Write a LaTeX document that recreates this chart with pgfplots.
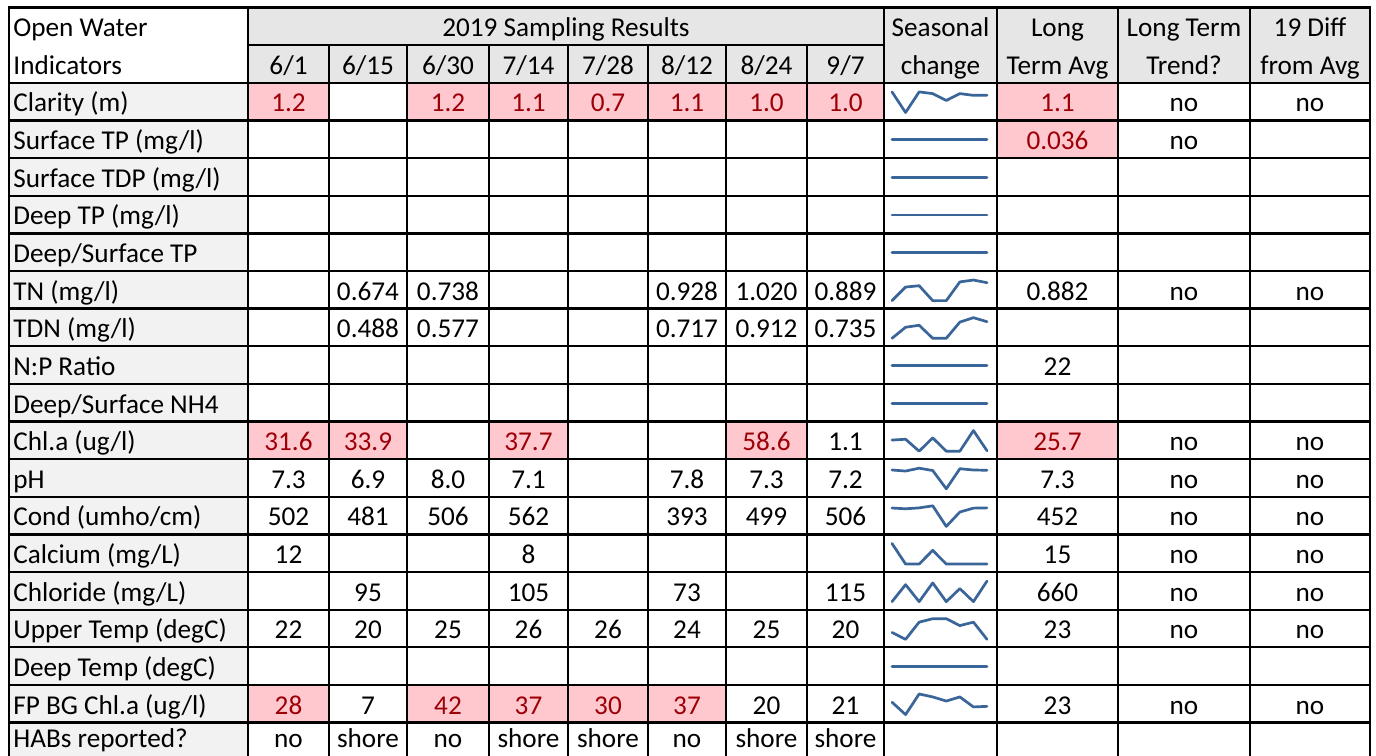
\documentclass[border=0pt]{standalone}
\usepackage{pgfplots}
\pgfplotsset{compat=1.18}
\usepackage{fontspec}
\setmainfont{Carlito}
\definecolor{hdr}{HTML}{E7E6E6}
\definecolor{ind}{HTML}{F2F2F2}
\definecolor{bad}{HTML}{FFC7CE}
\definecolor{badtxt}{HTML}{9C0006}
\definecolor{spark}{HTML}{3A6598}
\pgfplotsset{spark/.style={anchor=south west, scale only axis, width=47.5pt, height=10.3pt, hide axis, xmin=0, xmax=7, enlargelimits=false, clip=false},
  sp/.style={draw=spark, line width=1.35pt, line join=round, line cap=round, no marks}}
\def\cx{{129,288.5,368,448,528.5,608,687,766.5,845.5,940.5,1057.5,1184,1310}}
\def\ce{{9,248,329,407,489,568,648,726,807,884,997,1118,1250,1370}}
\tikzset{T/.style={font=\fontsize{13.6}{16}\selectfont, inner sep=0pt, anchor=base},
  L/.style={line width=1.15pt, black, line cap=rect}}
\newcommand\C[3]{\node[T] at ({\cx[#1]},{7.6+(#2+1)*37.63-8.5}) {#3};}
\newcommand\Hb[2]{\node[T] at ({\cx[#1]},{7.6+20*37.63-12.5}) {#2};}
\newcommand\B[3]{\pgfmathtruncatemacro\nc{#1+1}%
  \fill[bad] ({\ce[#1]},{7.6+#2*37.63}) rectangle ({\ce[\nc]},{7.6+(#2+1)*37.63});%
  \node[T,text=badtxt] at ({\cx[#1]},{7.6+(#2+1)*37.63-8.5}) {#3};}
\newcommand\I[2]{\node[T,anchor=base west] at (13,{7.6+(#1+1)*37.63-8.5}) {#2};}
\begin{document}
\begin{tikzpicture}
\useasboundingbox (0,0) rectangle (688pt,-377.5pt);
\fill[white] (0,0) rectangle (688pt,-377.5pt);
\begin{scope}[x=0.5pt,y=-0.5pt]
\clip (0,0) rectangle (1376,755);
% fills
\fill[hdr] (248,7.6) rectangle (1370,{7.6+2*37.63});
\fill[ind] (9,{7.6+2*37.63}) rectangle (248,760);
% header
\node[T,anchor=base west] at (13,{7.6+37.63-8.5}) {Open Water};
\node[T] at (566,{7.6+37.63-8.5}) {2019 Sampling Results};
\C{9}{0}{Seasonal}\C{10}{0}{Long}\C{11}{0}{Long Term}\C{12}{0}{19 Diff}
\I{1}{Indicators}
\C{1}{1}{6/1}\C{2}{1}{6/15}\C{3}{1}{6/30}\C{4}{1}{7/14}\C{5}{1}{7/28}\C{6}{1}{8/12}\C{7}{1}{8/24}\C{8}{1}{9/7}
\C{9}{1}{change}\C{10}{1}{Term Avg}\C{11}{1}{Trend?}\C{12}{1}{from Avg}
% indicators
\I{2}{Clarity (m)}\I{3}{Surface TP (mg/l)}\I{4}{Surface TDP (mg/l)}\I{5}{Deep TP (mg/l)}
\I{6}{Deep/Surface TP}\I{7}{TN (mg/l)}\I{8}{TDN (mg/l)}\I{9}{N:P Ratio}
\I{10}{Deep/Surface NH4}\I{11}{Chl.a (ug/l)}\I{12}{pH}\I{13}{Cond (umho/cm)}
\I{14}{Calcium (mg/L)}\I{15}{Chloride (mg/L)}\I{16}{Upper Temp (degC)}
\I{17}{Deep Temp (degC)}\I{18}{FP BG Chl.a (ug/l)}
\node[T,anchor=base west] at (13,{7.6+20*37.63-12.5}) {HABs reported?};
% Clarity
\B{1}{2}{1.2}\B{3}{2}{1.2}\B{4}{2}{1.1}\B{5}{2}{0.7}\B{6}{2}{1.1}\B{7}{2}{1.0}\B{8}{2}{1.0}\B{10}{2}{1.1}\C{11}{2}{no}\C{12}{2}{no}
% Surface TP
\B{10}{3}{0.036}\C{11}{3}{no}
% TN
\C{2}{7}{0.674}\C{3}{7}{0.738}\C{6}{7}{0.928}\C{7}{7}{1.020}\C{8}{7}{0.889}\C{10}{7}{0.882}\C{11}{7}{no}\C{12}{7}{no}
% TDN
\C{2}{8}{0.488}\C{3}{8}{0.577}\C{6}{8}{0.717}\C{7}{8}{0.912}\C{8}{8}{0.735}
% NP
\C{10}{9}{22}
% Chl
\B{1}{11}{31.6}\B{2}{11}{33.9}\B{4}{11}{37.7}\B{7}{11}{58.6}\C{8}{11}{1.1}\B{10}{11}{25.7}\C{11}{11}{no}\C{12}{11}{no}
% pH
\C{1}{12}{7.3}\C{2}{12}{6.9}\C{3}{12}{8.0}\C{4}{12}{7.1}\C{6}{12}{7.8}\C{7}{12}{7.3}\C{8}{12}{7.2}\C{10}{12}{7.3}\C{11}{12}{no}\C{12}{12}{no}
% Cond
\C{1}{13}{502}\C{2}{13}{481}\C{3}{13}{506}\C{4}{13}{562}\C{6}{13}{393}\C{7}{13}{499}\C{8}{13}{506}\C{10}{13}{452}\C{11}{13}{no}\C{12}{13}{no}
% Calcium
\C{1}{14}{12}\C{4}{14}{8}\C{10}{14}{15}\C{11}{14}{no}\C{12}{14}{no}
% Chloride
\C{2}{15}{95}\C{4}{15}{105}\C{6}{15}{73}\C{8}{15}{115}\C{10}{15}{660}\C{11}{15}{no}\C{12}{15}{no}
% Upper temp
\C{1}{16}{22}\C{2}{16}{20}\C{3}{16}{25}\C{4}{16}{26}\C{5}{16}{26}\C{6}{16}{24}\C{7}{16}{25}\C{8}{16}{20}\C{10}{16}{23}\C{11}{16}{no}\C{12}{16}{no}
% FP BG
\B{1}{18}{28}\C{2}{18}{7}\B{3}{18}{42}\B{4}{18}{37}\B{5}{18}{30}\B{6}{18}{37}\C{7}{18}{20}\C{8}{18}{21}\C{10}{18}{23}\C{11}{18}{no}\C{12}{18}{no}
% HABs
\Hb{1}{no}\Hb{2}{shore}\Hb{3}{no}\Hb{4}{shore}\Hb{5}{shore}\Hb{6}{no}\Hb{7}{shore}\Hb{8}{shore}
% grid
\foreach \r in {2,...,19} \draw[L] (9,{7.6+\r*37.63}) -- (1370,{7.6+\r*37.63});
\draw[L] (248,{7.6+37.63}) -- (884,{7.6+37.63});
\draw[L] (9,7.6) -- (1370,7.6);
\foreach \x in {9,248,884,997,1118,1250,1370} \draw[L] (\x,7.6) -- (\x,770);
\foreach \x in {329,407,489,568,648,726,807} \draw[L] (\x,{7.6+37.63}) -- (\x,770);
\end{scope}
% sparklines
\begin{axis}[spark, at={(446pt,-56.25pt)}]
\addplot[sp] coordinates {(0,1.2)(1,0)(2,1.2)(3,1.1)(4,0.7)(5,1.1)(6,1.0)(7,1.0)};
\end{axis}
\begin{axis}[spark, at={(446pt,-75.06pt)}, ymin=-1, ymax=1]
\addplot[sp] coordinates {(0,0)(1,0)(2,0)(3,0)(4,0)(5,0)(6,0)(7,0)};
\end{axis}
\begin{axis}[spark, at={(446pt,-93.88pt)}, ymin=-1, ymax=1]
\addplot[sp] coordinates {(0,0)(1,0)(2,0)(3,0)(4,0)(5,0)(6,0)(7,0)};
\end{axis}
\begin{axis}[spark, at={(446pt,-112.69pt)}, ymin=-1, ymax=1]
\addplot[sp] coordinates {(0,0)(1,0)(2,0)(3,0)(4,0)(5,0)(6,0)(7,0)};
\end{axis}
\begin{axis}[spark, at={(446pt,-131.51pt)}, ymin=-1, ymax=1]
\addplot[sp] coordinates {(0,0)(1,0)(2,0)(3,0)(4,0)(5,0)(6,0)(7,0)};
\end{axis}
\begin{axis}[spark, at={(446pt,-150.32pt)}]
\addplot[sp] coordinates {(0,0)(1,0.674)(2,0.738)(3,0)(4,0)(5,0.928)(6,1.020)(7,0.889)};
\end{axis}
\begin{axis}[spark, at={(446pt,-169.14pt)}]
\addplot[sp] coordinates {(0,0)(1,0.488)(2,0.577)(3,0)(4,0)(5,0.717)(6,0.912)(7,0.735)};
\end{axis}
\begin{axis}[spark, at={(446pt,-187.95pt)}, ymin=-1, ymax=1]
\addplot[sp] coordinates {(0,0)(1,0)(2,0)(3,0)(4,0)(5,0)(6,0)(7,0)};
\end{axis}
\begin{axis}[spark, at={(446pt,-206.77pt)}, ymin=-1, ymax=1]
\addplot[sp] coordinates {(0,0)(1,0)(2,0)(3,0)(4,0)(5,0)(6,0)(7,0)};
\end{axis}
\begin{axis}[spark, at={(446pt,-225.58pt)}]
\addplot[sp] coordinates {(0,31.6)(1,33.9)(2,0)(3,37.7)(4,0)(5,0)(6,58.6)(7,1.1)};
\end{axis}
\begin{axis}[spark, at={(446pt,-244.40pt)}]
\addplot[sp] coordinates {(0,7.3)(1,6.9)(2,8.0)(3,7.1)(4,0)(5,7.8)(6,7.3)(7,7.2)};
\end{axis}
\begin{axis}[spark, at={(446pt,-263.21pt)}]
\addplot[sp] coordinates {(0,502)(1,481)(2,506)(3,562)(4,0)(5,393)(6,499)(7,506)};
\end{axis}
\begin{axis}[spark, at={(446pt,-282.03pt)}]
\addplot[sp] coordinates {(0,12)(1,0)(2,0)(3,8)(4,0)(5,0)(6,0)(7,0)};
\end{axis}
\begin{axis}[spark, at={(446pt,-300.84pt)}]
\addplot[sp] coordinates {(0,0)(1,95)(2,0)(3,105)(4,0)(5,73)(6,0)(7,115)};
\end{axis}
\begin{axis}[spark, at={(446pt,-319.66pt)}]
\addplot[sp] coordinates {(0,22)(1,20)(2,25)(3,26)(4,26)(5,24)(6,25)(7,20)};
\end{axis}
\begin{axis}[spark, at={(446pt,-338.47pt)}, ymin=-1, ymax=1]
\addplot[sp] coordinates {(0,0)(1,0)(2,0)(3,0)(4,0)(5,0)(6,0)(7,0)};
\end{axis}
\begin{axis}[spark, at={(446pt,-357.29pt)}]
\addplot[sp] coordinates {(0,28)(1,7)(2,42)(3,37)(4,30)(5,37)(6,20)(7,21)};
\end{axis}
\end{tikzpicture}
\end{document}
